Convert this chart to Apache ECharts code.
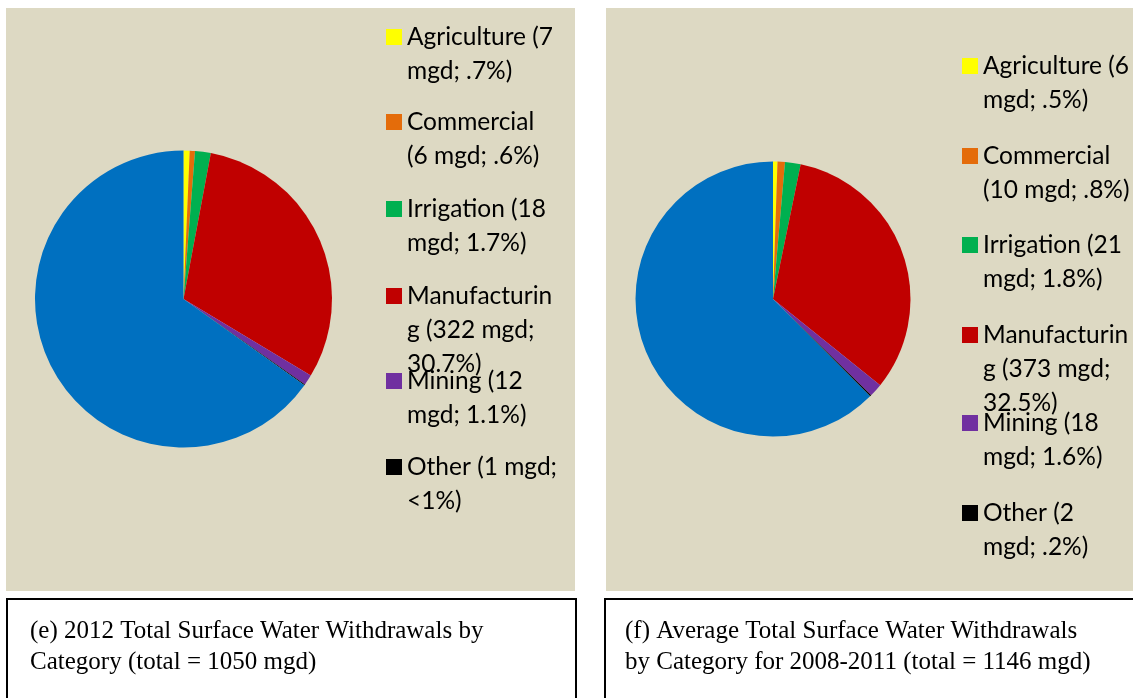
<!DOCTYPE html>
<html>
<head>
<meta charset="utf-8">
<script src="https://cdn.jsdelivr.net/npm/echarts@6/dist/echarts.min.js"></script>
<style>
  html, body { margin: 0; padding: 0; background: #ffffff; }
  #chart { width: 1133px; height: 698px; }
</style>
</head>
<body>
<div id="chart"></div>
<script>
// Surface water withdrawals by category (mgd)
const categories = ['Agriculture', 'Commercial', 'Irrigation', 'Manufacturing', 'Mining', 'Other', 'Public Supply'];
const legendCategories = ['Agriculture', 'Commercial', 'Irrigation', 'Manufacturing', 'Mining', 'Other'];
const values2012 = [7, 6, 18, 322, 12, 1, 684];
const valuesAvg = [6, 10, 21, 373, 18, 2, 716];
const legendText2012 = [
  'Agriculture (7\nmgd; .7%)',
  'Commercial\n(6 mgd; .6%)',
  'Irrigation (18\nmgd; 1.7%)',
  'Manufacturin\ng (322 mgd;\n30.7%)',
  'Mining (12\nmgd; 1.1%)',
  'Other (1 mgd;\n<1%)'
];
const legendTextAvg = [
  'Agriculture (6\nmgd; .5%)',
  'Commercial\n(10 mgd; .8%)',
  'Irrigation (21\nmgd; 1.8%)',
  'Manufacturin\ng (373 mgd;\n32.5%)',
  'Mining (18\nmgd; 1.6%)',
  'Other (2\nmgd; .2%)'
];
const caption2012 = ['(e) 2012 Total Surface Water Withdrawals by', 'Category (total = 1050 mgd)'];
const captionAvg = ['(f) Average Total Surface Water Withdrawals', 'by Category for 2008-2011 (total = 1146 mgd)'];

const sliceColors = ['#FFFF00', '#E46C0A', '#00B050', '#C00000', '#7030A0', '#000000', '#0070C0'];
const panelColor = '#DDD9C3';
const legendFont = 'Lato';
const legendSize = 24.5;
const lineH = 34;

// Vertical centres of the first text line of each legend entry
const legendRows2012 = [37, 122, 209, 296, 381, 467];
const legendRowsAvg = [66, 156, 245, 335, 423, 513];

// The legend centres its text block on the swatch; leading blank lines keep
// the swatch level with the first line of a wrapped label.
function alignFirstLine(label) {
  const n = label.split('\n').length;
  return '\n'.repeat(n - 1) + label;
}

function buildLegends(labels, rows, left) {
  return legendCategories.map((name, i) => {
    const n = labels[i].split('\n').length;
    return {
      data: [name],
      left: left,
      top: rows[i] - lineH / 2 - (n - 1) * lineH,
      orient: 'vertical',
      padding: 0,
      icon: 'rect',
      itemWidth: 16,
      itemHeight: 16,
      itemGap: 0,
      selectedMode: false,
      formatter: () => alignFirstLine(labels[i]),
      textStyle: {
        fontFamily: legendFont,
        fontSize: legendSize,
        color: '#000000',
        lineHeight: lineH
      }
    };
  });
}

function pieData(values) {
  return categories.map((name, i) => ({
    name: name,
    value: values[i],
    itemStyle: { color: sliceColors[i] }
  }));
}

function captionGraphics(lines, boxX, boxW, textX) {
  return [
    {
      type: 'rect', z: 0, silent: true,
      shape: { x: boxX, y: 599, width: boxW, height: 110 },
      style: { fill: '#ffffff', stroke: '#000000', lineWidth: 2 }
    },
    ...lines.map((t, i) => ({
      type: 'text', z: 1, silent: true,
      x: textX, y: 631 + i * 31,
      style: {
        text: t,
        font: '25px "Liberation Serif"',
        fill: '#000000',
        verticalAlign: 'middle'
      }
    }))
  ];
}

const chart = echarts.init(document.getElementById('chart'), null, { renderer: 'canvas' });

chart.setOption({
  animation: false,
  backgroundColor: '#ffffff',
  legend: [
    ...buildLegends(legendText2012, legendRows2012, 386),
    ...buildLegends(legendTextAvg, legendRowsAvg, 962)
  ],
  graphic: [
    {
      type: 'rect', z: -10, silent: true,
      shape: { x: 6, y: 8, width: 569, height: 583 },
      style: { fill: panelColor }
    },
    {
      type: 'rect', z: -10, silent: true,
      shape: { x: 606, y: 8, width: 540, height: 583 },
      style: { fill: panelColor }
    },
    ...captionGraphics(caption2012, 7, 569, 30),
    ...captionGraphics(captionAvg, 605, 545, 625)
  ],
  series: [
    {
      type: 'pie',
      name: '2012',
      center: [183.5, 299],
      radius: 148.5,
      startAngle: 90,
      clockwise: true,
      label: { show: false },
      labelLine: { show: false },
      emphasis: { disabled: true },
      data: pieData(values2012)
    },
    {
      type: 'pie',
      name: '2008-2011',
      center: [773, 299],
      radius: 137.5,
      startAngle: 90,
      clockwise: true,
      label: { show: false },
      labelLine: { show: false },
      emphasis: { disabled: true },
      data: pieData(valuesAvg)
    }
  ]
});
</script>
</body>
</html>
